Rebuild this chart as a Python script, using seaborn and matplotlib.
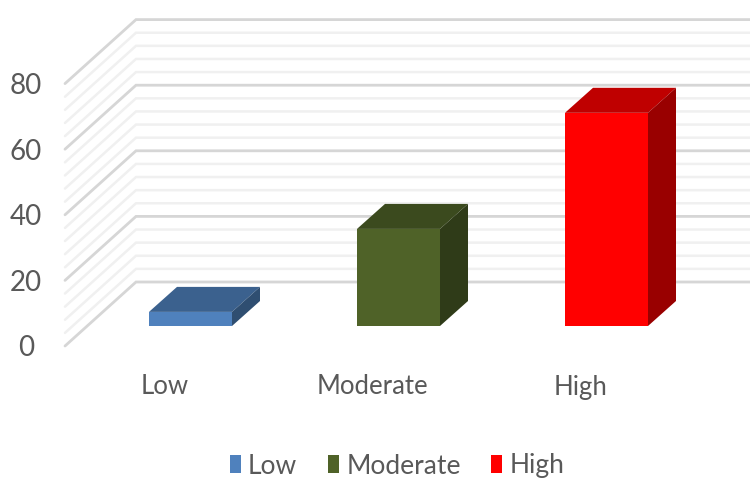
import matplotlib
matplotlib.use("Agg")
import matplotlib.pyplot as plt
from matplotlib.patches import Polygon
import pandas as pd
import seaborn as sns

categories = ["Low", "Moderate", "High"]
values = [4.3, 29.6, 65.0]
front_colors = ["#4f81bd", "#4f6228", "#ff0000"]
top_colors = ["#3b618e", "#3b4a1e", "#bf0000"]
side_colors = ["#2f4e71", "#2f3b18", "#990000"]
major_ticks = [0, 20, 40, 60, 80]
minor_step = 4

W, H = 750, 478
PX_X = 208.0          # pixels per category
PX_Y = 3.28           # pixels per value unit
X0_PX, Y0_PX = 190.5, 326.0   # pixel position of category 0, value 0

sns.set_theme(style="white")
plt.rcParams["font.family"] = ["Lato", "DejaVu Sans"]

fig = plt.figure(figsize=(W / 100, H / 100), dpi=100, facecolor="white")
ax = fig.add_axes([0, 0, 1, 1])

df = pd.DataFrame({"level": categories, "value": values})
palette = dict(zip(categories, front_colors))
sns.barplot(data=df, x="level", y="value", hue="level", palette=palette, width=83 / PX_X,
            dodge=False, legend=True, ax=ax, zorder=3, saturation=1,
            edgecolor="none", linewidth=0)

ax.set_xlim(-X0_PX / PX_X, (W - X0_PX) / PX_X)
ax.set_ylim((Y0_PX - H) / PX_Y, Y0_PX / PX_Y)
ax.axis("off")


def dx(px):
    return px / PX_X


def dy(px):
    return px / PX_Y


# Wall and back-plane gridlines, offset from the bar plane by the chart's depth
wall_front_x, wall_back_x, right_x = dx(65 - X0_PX), dx(136 - X0_PX), dx(750 - X0_PX)
front_drop, back_rise = dy(-20), dy(44)
for v in range(0, 80 + minor_step, minor_step):
    major = v in major_ticks
    ax.plot([wall_front_x, wall_back_x, right_x],
            [v + front_drop, v + back_rise, v + back_rise],
            color="#d6d6d6" if major else "#f0f0f0",
            lw=2.0 if major else 1.8, zorder=1, solid_joinstyle="miter")

# Extruded top and side faces for each bar
depth_x, depth_y = dx(28), dy(25)
half = 83 / PX_X / 2
for i, v in enumerate(values):
    l, r = i - half, i + half
    ax.add_patch(Polygon([(l, v), (r, v), (r + depth_x, v + depth_y), (l + depth_x, v + depth_y)],
                         closed=True, fc=top_colors[i], ec="none", zorder=4))
    ax.add_patch(Polygon([(r, 0), (r + depth_x, depth_y), (r + depth_x, v + depth_y), (r, v)],
                         closed=True, fc=side_colors[i], ec="none", zorder=4))

# Axis text
text_color = "#595959"
for v in major_ticks:
    ax.text(dx(26 - X0_PX), v + dy(-22.5), str(v), ha="center", va="center",
            fontsize=20, color=text_color)
for i, c in enumerate(categories):
    ax.text(i - dx(26), dy(Y0_PX - 387), c, ha="center", va="center",
            fontsize=18.5, color=text_color)

# Legend along the bottom edge
handles, labels = ax.get_legend_handles_labels()
ax.legend(handles, labels, loc="center", bbox_to_anchor=(397 / W, 1 - 466 / H),
          bbox_transform=fig.transFigure, ncol=3, frameon=False, fontsize=19,
          labelcolor=text_color, handlelength=0.42, handleheight=0.68,
          handletextpad=0.28, columnspacing=1.15, borderpad=0, borderaxespad=0)

fig.savefig("out.png", dpi=100, facecolor="white")
